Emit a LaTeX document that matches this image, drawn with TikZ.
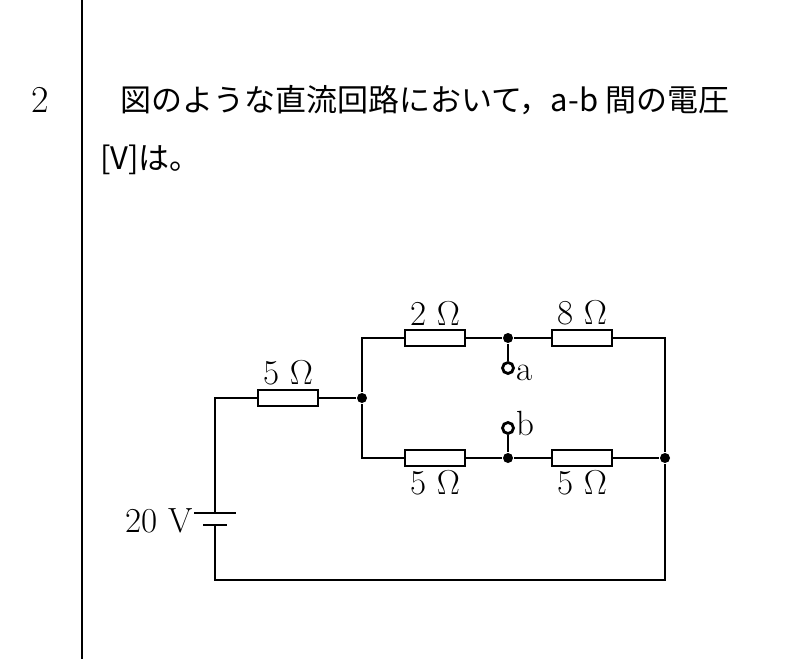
\documentclass[tikz,border=0pt]{standalone}
\usepackage{fontspec}
\newfontfamily\jpfont{Noto Sans CJK JP}
\usetikzlibrary{positioning}

\begin{document}
\begin{tikzpicture}[x=0.5pt,y=-0.5pt,line width=1.4pt,
	res/.style={draw,rectangle,minimum width=30pt,minimum height=8pt,inner sep=0pt,fill=white},
	dot/.style={circle,fill,inner sep=0pt,minimum size=5pt},
	term/.style={circle,draw,fill=white,inner sep=0pt,minimum size=5.5pt},
	lbl/.style={font=\fontsize{17.5}{17.5}\selectfont,inner sep=1pt}
]
	\useasboundingbox (0,0) rectangle (805,659);
	% question text
	\draw[line width=0.8pt] (82,0) -- (82,659);
	\node[font=\fontsize{19}{19}\selectfont] (num) at (40,100) {2};
	\node[anchor=west,font=\jpfont\fontsize{15.5}{15.5}\selectfont] (q1) at (112,100) {図のような直流回路において，a-b 間の電圧};
	\node[anchor=west,font=\jpfont\fontsize{15.5}{15.5}\selectfont] (q2) at (92,160) {[V]は。};
	% corners and junctions
	\coordinate (tl) at (215,398);
	\coordinate (bl) at (215,580);
	\coordinate (br) at (665,580);
	\coordinate (tr) at (665,338);
	\coordinate (jt) at (362,338);
	\coordinate (jb) at (362,458);
	\node[dot] (jl) at (362,398) {};
	\node[dot] (ja) at (508,338) {};
	\node[dot] (jbb) at (508,458) {};
	\node[dot] (jr) at (665,458) {};
	\node[term] (a) at (508,368) {};
	\node[term] (b) at (508,428) {};
	\node[lbl,anchor=west] at (a.south east) {a};
	\node[lbl,anchor=west] at (b.north east) {b};
	% battery
	\coordinate (bt) at (215,513);
	\coordinate (bb) at (215,525);
	% wires
	\draw (bt) -- (tl) -- (jl) -- (jt) -- (ja) -- (tr) -- (jr) -- (br) -- (bl) -- (bb);
	\draw (jl) -- (jb) -- (jbb) -- (jr);
	\draw (ja) -- (a);
	\draw (jbb) -- (b);
	\draw ([xshift=-10.5pt]bt) -- ([xshift=10.5pt]bt);
	\draw ([xshift=-6pt]bb) -- ([xshift=6pt]bb);
	\node[lbl,anchor=east] (v) at (196,521) {20 V};
	% resistors
	\node[res,label={[lbl]above:5 $\Omega$}] (r1) at (288,398) {};
	\node[res,label={[lbl]above:2 $\Omega$}] (r2) at (435,338) {};
	\node[res,label={[lbl]above:8 $\Omega$}] (r3) at (582,338) {};
	\node[res,label={[lbl]below:5 $\Omega$}] (r4) at (435,458) {};
	\node[res,label={[lbl]below:5 $\Omega$}] (r5) at (582,458) {};
\end{tikzpicture}
\end{document}
